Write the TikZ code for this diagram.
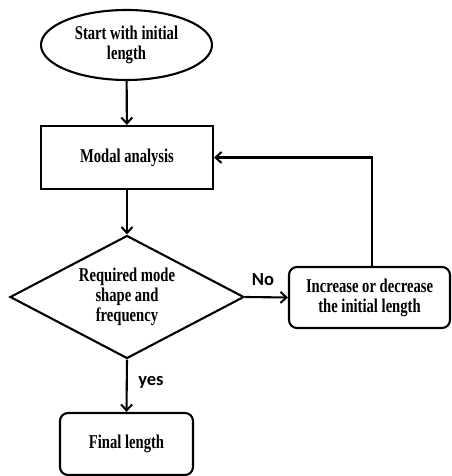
\documentclass[tikz,border=0pt]{standalone}
\usepackage{fontspec}
\setmainfont{Liberation Serif}[FakeStretch=0.75]
\newfontfamily\labelfont{Carlito}
\usetikzlibrary{shapes.geometric,arrows.meta}
\begin{document}
\begin{tikzpicture}[x=1pt,y=1pt,
  every node/.style={font=\fontsize{19.5}{20}\selectfont\bfseries, align=center, inner sep=0pt},
  box/.style={draw, line width=2.1pt, minimum width=#1},
  conn/.style={draw, line width=2.1pt, -{Straight Barb[length=6pt,width=11pt,line width=2pt]}},
  lbl/.style={font=\labelfont\fontsize{18.5}{18.5}\selectfont\bfseries}
]
\useasboundingbox (0,0) rectangle (451,476);
\node[draw, line width=2.1pt, ellipse, minimum width=171, minimum height=70] (start) at (126.5,431) {Start with initial\\length};
\node[box=172, minimum height=63] (modal) at (127,318.5) {Modal analysis};
\node[draw, line width=2.1pt, diamond, shape aspect=1.9, minimum width=234, minimum height=123] (dec) at (127,179) {Required mode\\shape and\\frequency};
\node[box=161, minimum height=61, rounded corners=8pt] (inc) at (369.5,178.5) {Increase or decrease\\the initial length};
\node[box=133, minimum height=62, rounded corners=8pt] (final) at (126.5,32) {Final length};
\coordinate (up) at (372,318.5);
\draw[conn] (start) -- (modal);
\draw[conn] (modal) -- (dec);
\draw[conn] (dec.east) -- (inc.west);
\draw[conn] (dec.south) -- (final.north);
\draw[conn] (inc.north -| up) -- (up) -- (modal.east);
\node[lbl] (no) at (263,196) {No};
\node[lbl] (yes) at (151,94) {yes};
\end{tikzpicture}
\end{document}
